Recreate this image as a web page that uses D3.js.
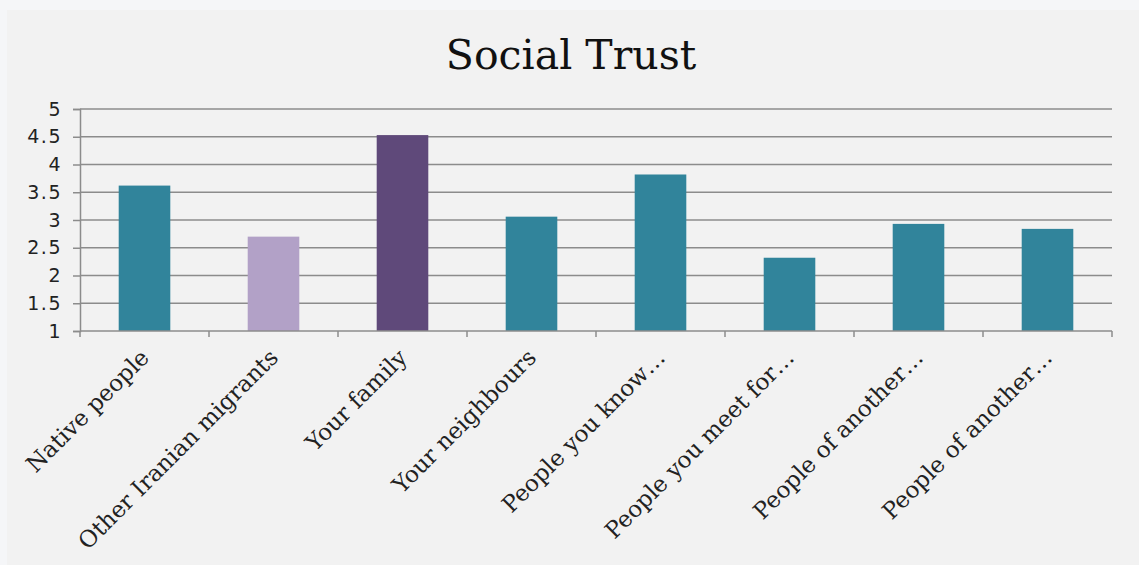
<!DOCTYPE html>
<html>
<head>
<meta charset="utf-8">
<script src="https://cdn.jsdelivr.net/npm/d3@7"></script>
<style>
  html, body { margin: 0; padding: 0; background: #f5f6f8; }
  svg { display: block; }
</style>
</head>
<body>
<svg id="chart" width="1139" height="565"></svg>
<script>
// Social trust scores by group (scale 1–5)
const categories = [
  "Native people",
  "Other Iranian migrants",
  "Your family",
  "Your neighbours",
  "People you know…",
  "People you meet for…",
  "People of another…",
  "People of another…"
];
const values = [3.62, 2.70, 4.53, 3.06, 3.82, 2.32, 2.93, 2.84];
const barColors = ["#31849b", "#b2a1c7", "#5f497a", "#31849b", "#31849b", "#31849b", "#31849b", "#31849b"];
const yTicks = [1, 1.5, 2, 2.5, 3, 3.5, 4, 4.5, 5];
const title = "Social Trust";

const width = 1139, height = 565;
const margin = { top: 109, right: 27, bottom: 234, left: 80 };
const innerW = width - margin.left - margin.right;
const innerH = height - margin.top - margin.bottom;

const svg = d3.select("#chart");

// chart panel
svg.append("rect")
  .attr("x", 7).attr("y", 10)
  .attr("width", width - 7).attr("height", height - 10)
  .attr("fill", "#f2f2f2");

svg.append("text")
  .attr("x", 571).attr("y", 69)
  .attr("text-anchor", "middle")
  .attr("font-family", "'DejaVu Serif', serif")
  .attr("font-size", 41)
  .attr("fill", "#111")
  .text(title);

const g = svg.append("g").attr("transform", `translate(${margin.left},${margin.top})`);

const x = d3.scaleBand()
  .domain(d3.range(categories.length))
  .range([0, innerW])
  .paddingInner(0.6)
  .paddingOuter(0.3);

const y = d3.scaleLinear().domain([1, 5]).range([innerH, 0]);

// horizontal gridlines
g.append("g")
  .selectAll("line")
  .data(yTicks.filter(t => t > 1))
  .join("line")
  .attr("x1", 0).attr("x2", innerW)
  .attr("y1", d => y(d)).attr("y2", d => y(d))
  .attr("stroke", "#8c8c8c")
  .attr("stroke-width", 1.5);

// bars
g.append("g")
  .selectAll("rect")
  .data(values)
  .join("rect")
  .attr("x", (d, i) => x(i))
  .attr("y", d => y(d))
  .attr("width", x.bandwidth())
  .attr("height", d => innerH - y(d))
  .attr("fill", (d, i) => barColors[i]);

// y axis
const yAxis = g.append("g")
  .call(d3.axisLeft(y).tickValues(yTicks).tickSize(7).tickPadding(11)
    .tickFormat(d3.format("~g")));
yAxis.select(".domain").attr("stroke", "#8c8c8c").attr("stroke-width", 1.5);
yAxis.selectAll(".tick line").attr("stroke", "#8c8c8c").attr("stroke-width", 1.5);
yAxis.selectAll(".tick text")
  .attr("font-family", "'DejaVu Sans', Verdana, sans-serif")
  .attr("font-size", 19)
  .attr("letter-spacing", 1.5)
  .attr("fill", "#222");

// x axis with boundary ticks between categories
const xb = d3.scaleLinear().domain([0, categories.length]).range([0, innerW]);
const xAxisG = g.append("g").attr("transform", `translate(0,${innerH})`);
xAxisG.append("line")
  .attr("x1", 0).attr("x2", innerW)
  .attr("stroke", "#8c8c8c").attr("stroke-width", 1.5);
xAxisG.selectAll("line.tk")
  .data(d3.range(categories.length + 1))
  .join("line")
  .attr("class", "tk")
  .attr("x1", d => xb(d)).attr("x2", d => xb(d))
  .attr("y1", 0).attr("y2", 6)
  .attr("stroke", "#8c8c8c").attr("stroke-width", 1.5);

// rotated category labels
xAxisG.selectAll("text")
  .data(categories)
  .join("text")
  .attr("transform", (d, i) => `translate(${x(i) + x.bandwidth() / 2 + 6},${28}) rotate(-45)`)
  .attr("text-anchor", "end")
  .attr("font-family", "'DejaVu Serif', serif")
  .attr("font-size", 23)
  .attr("fill", "#222")
  .text(d => d);
</script>
</body>
</html>
